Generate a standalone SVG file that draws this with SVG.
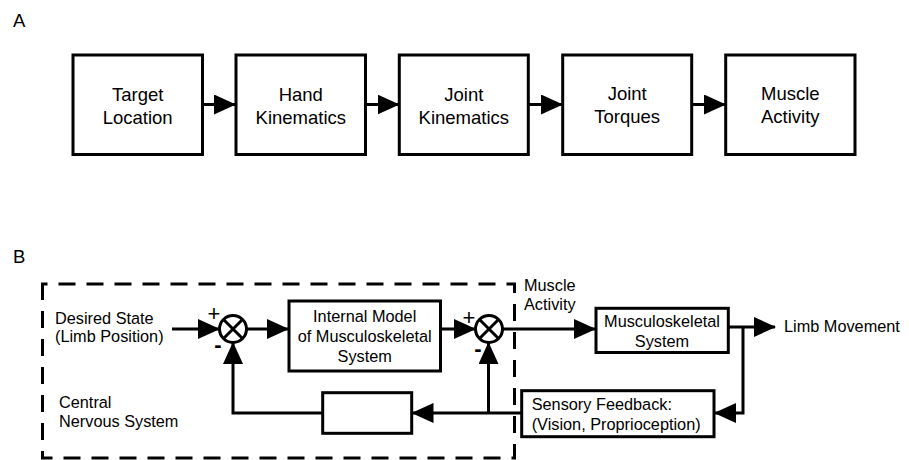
<svg xmlns="http://www.w3.org/2000/svg" width="909" height="460" viewBox="0 0 909 460">
<style>
  .box { fill: #fff; stroke: #000; stroke-width: 3; }
  .ln { fill: none; stroke: #000; stroke-width: 3; }
  .arr { fill: none; stroke: #000; stroke-width: 3; marker-end: url(#ah); }
  .ta { font-family: "Liberation Sans", Arial, sans-serif; font-size: 18.5px; fill: #000; text-anchor: middle; }
  .tb { font-family: "Liberation Sans", Arial, sans-serif; font-size: 16.3px; fill: #000; }
  .mid { text-anchor: middle; }
  .lbl { font-family: "Liberation Sans", Arial, sans-serif; font-size: 18.5px; fill: #000; }
  .sgn { font-family: "Liberation Sans", Arial, sans-serif; font-size: 22px; fill: #000; text-anchor: middle; }
  .dash { fill: none; stroke: #000; stroke-width: 3; stroke-dasharray: 17 11; }
</style>
<defs>
  <marker id="ah" markerWidth="22" markerHeight="20" refX="21" refY="10" orient="auto" markerUnits="userSpaceOnUse">
    <path d="M0,0 L22,10 L0,20 Z" fill="#000"/>
  </marker>
</defs>
<rect width="909" height="460" fill="#fff"/>

<text class="lbl" x="13" y="27">A</text>
<text class="lbl" x="13" y="263">B</text>

<!-- Panel A nodes -->
<g id="target-location">
  <rect class="box" x="73" y="55" width="129.5" height="99.5"/>
  <text class="ta" x="137.7" y="100.5">Target</text>
  <text class="ta" x="137.7" y="123.8">Location</text>
</g>
<g id="hand-kinematics">
  <rect class="box" x="236" y="55" width="129.5" height="99.5"/>
  <text class="ta" x="300.8" y="100.5">Hand</text>
  <text class="ta" x="300.8" y="123.8">Kinematics</text>
</g>
<g id="joint-kinematics">
  <rect class="box" x="399.3" y="55" width="129" height="99.5"/>
  <text class="ta" x="463.8" y="100.5">Joint</text>
  <text class="ta" x="463.8" y="123.8">Kinematics</text>
</g>
<g id="joint-torques">
  <rect class="box" x="562.7" y="55" width="129" height="99.5"/>
  <text class="ta" x="627.2" y="99.5">Joint</text>
  <text class="ta" x="627.2" y="122.5">Torques</text>
</g>
<g id="muscle-activity">
  <rect class="box" x="725.7" y="55" width="129.3" height="99.5"/>
  <text class="ta" x="790.3" y="99.5">Muscle</text>
  <text class="ta" x="790.3" y="122.5">Activity</text>
</g>

<!-- Panel B -->
<g id="cns-boundary">
  <path class="dash" d="M42.5,296 V284 H514.5 V458 H42.5 Z"/>
  <text class="tb" x="59" y="408.3">Central</text>
  <text class="tb" x="59" y="426.7">Nervous System</text>
</g>
<g id="desired-state">
  <text class="tb" x="55" y="324">Desired State</text>
  <text class="tb" x="55" y="341.7">(Limb Position)</text>
</g>
<g id="sum1">
  <circle cx="233" cy="329" r="13.5" fill="#fff" stroke="#000" stroke-width="3"/>
  <path class="ln" d="M223.5,319.5 L242.5,338.5 M242.5,319.5 L223.5,338.5"/>
  <text class="sgn" x="214" y="321">+</text>
  <text class="sgn" x="218" y="352" font-weight="bold">-</text>
</g>
<g id="internal-model">
  <rect class="box" x="289" y="301" width="151.5" height="70"/>
  <text class="tb mid" x="364.7" y="322">Internal  Model</text>
  <text class="tb mid" x="364.7" y="342">of Musculoskeletal</text>
  <text class="tb mid" x="364.7" y="361.5">System</text>
</g>
<g id="sum2">
  <circle cx="489" cy="329" r="13.5" fill="#fff" stroke="#000" stroke-width="3"/>
  <path class="ln" d="M479.5,319.5 L498.5,338.5 M498.5,319.5 L479.5,338.5"/>
  <text class="sgn" x="469" y="325">+</text>
  <text class="sgn" x="478" y="356" font-weight="bold">-</text>
</g>
<g id="muscle-activity-label">
  <text class="tb" x="524" y="290.5">Muscle</text>
  <text class="tb" x="524" y="310">Activity</text>
</g>
<g id="musculoskeletal-system">
  <rect class="box" x="596" y="308.3" width="132.3" height="44.2"/>
  <text class="tb mid" x="662" y="327">Musculoskeletal</text>
  <text class="tb mid" x="662" y="347">System</text>
</g>
<g id="limb-movement">
  <text class="tb" x="784" y="331.7">Limb  Movement</text>
</g>
<g id="sensory-feedback">
  <rect class="box" x="521.7" y="390.7" width="192.3" height="46"/>
  <text class="tb" x="531.7" y="410">Sensory  Feedback:</text>
  <text class="tb" x="531.7" y="429.5">(Vision, Proprioception)</text>
</g>
<g id="blank-block">
  <rect class="box" x="322.7" y="392.7" width="89" height="40.6"/>
</g>

<!-- Connectors -->
<g id="connectors">
  <path class="arr" d="M202.5,104.5 H235"/>
  <path class="arr" d="M365.5,104.5 H398.5"/>
  <path class="arr" d="M528.3,104.5 H562"/>
  <path class="arr" d="M691.7,104.5 H725"/>

  <path class="arr" d="M172,329 H219"/>
  <path class="arr" d="M246.5,329 H288"/>
  <path class="arr" d="M440.5,329 H475"/>
  <path class="arr" d="M502.5,329 H595"/>
  <path class="arr" d="M728.3,327 H775"/>
  <path class="arr" d="M743,327 V413 H715"/>
  <path class="arr" d="M521.7,413 H412.5"/>
  <path class="arr" d="M488.5,413 V343"/>
  <path class="arr" d="M322.7,413 H233 V343"/>
</g>
</svg>
